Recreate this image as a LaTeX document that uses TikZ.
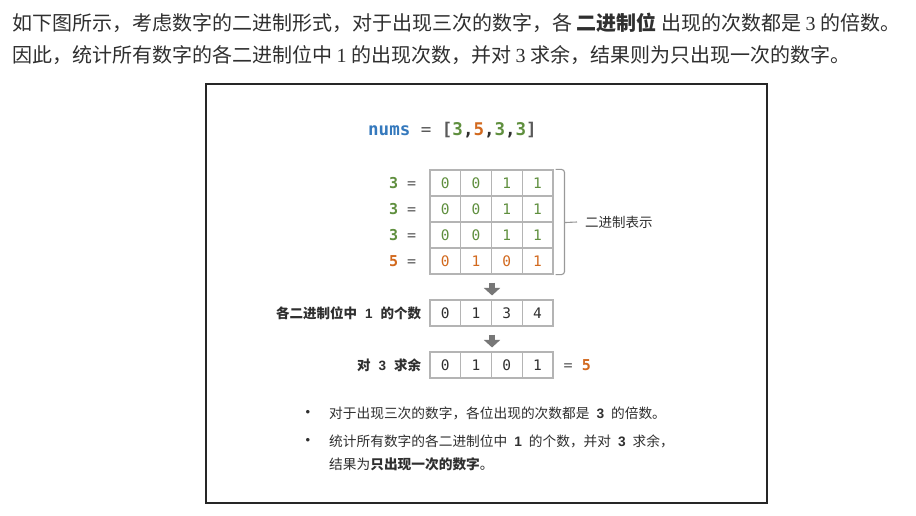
\documentclass[tikz,border=0pt]{standalone}
\usepackage{fontspec}
\setmainfont{Liberation Serif}
\newfontfamily\cjk{Noto Sans CJK SC}
\newfontfamily\mono{DejaVu Sans Mono}
\newfontfamily\arial{Liberation Sans}
\usetikzlibrary{positioning,arrows.meta}
\definecolor{numgreen}{HTML}{5F8F3E}
\definecolor{numorange}{HTML}{D2691E}
\definecolor{numblue}{HTML}{3579BD}
\definecolor{txtgray}{HTML}{2F2F2F}
\definecolor{eqgray}{HTML}{5A5A5A}
\definecolor{cellline}{HTML}{B4B4B4}
\definecolor{arrowgray}{HTML}{777777}
\begin{document}
\begin{tikzpicture}[x=1pt,y=-1pt,
    every node/.style={inner sep=0pt,text=txtgray},
    cell/.style={draw=cellline,line width=1.1pt,minimum width=30.75pt,minimum height=26pt,font=\mono\fontsize{14.5}{14.5}\selectfont},
    rowlab/.style={font=\mono\bfseries\fontsize{15}{15}\selectfont},
    sidelab/.style={font=\cjk\bfseries\fontsize{13.5}{13.5}\selectfont},
    note/.style={anchor=west,font=\cjk\fontsize{13.7}{13.7}\selectfont},
    bigarrow/.style={arrowgray,line width=6pt,-{Triangle[width=16pt,length=7.5pt]},shorten <=8pt,shorten >=4pt}]
    \useasboundingbox[fill=white] (0,0) rectangle (916,516);
    \node[anchor=west,font=\cjk\fontsize{20}{20}\selectfont] (intro1) at (12,23) {如下图所示，考虑数字的二进制形式，对于出现三次的数字，各 \textbf{二进制位} 出现的次数都是 {\rmfamily 3} 的倍数。};
    \node[anchor=west,font=\cjk\fontsize{20}{20}\selectfont] (intro2) at (12,55) {因此，统计所有数字的各二进制位中 {\rmfamily 1} 的出现次数，并对 {\rmfamily 3} 求余，结果则为只出现一次的数字。};
    \draw[black!85,line width=1.6pt] (206,84) rectangle (767,503);
    \node[anchor=west,font=\mono\bfseries\fontsize{17.5}{17.5}\selectfont] (nums) at (368,130) {\textcolor{numblue}{nums} {\mdseries\color{eqgray}=} {\color{eqgray}[}\textcolor{numgreen}{3},\textcolor{numorange}{5},\textcolor{numgreen}{3},\textcolor{numgreen}{3}{\color{eqgray}]}};
    \foreach \r/\n/\bits/\clr in {1/3/{0,0,1,1}/numgreen,2/3/{0,0,1,1}/numgreen,3/3/{0,0,1,1}/numgreen,4/5/{0,1,0,1}/numorange}{
        \foreach \b [count=\c] in \bits
            \node[cell,text=\clr] (c\r\c) at (414.6+30.75*\c,157+26*\r) {\b};
        \node[rowlab,left=13pt of c\r1] (l\r) {\textcolor{\clr}{\n} {\mdseries\color{eqgray}=}};
    }
    \draw[cellline!85!black,line width=1.1pt,rounded corners=3pt] ([xshift=2pt]c14.north east) -| ([xshift=11pt]c44.south east) -- ([xshift=2pt]c44.south east);
    \coordinate (brace) at ([xshift=11pt]c24.south east);
    \node[anchor=west,font=\cjk\fontsize{13.5}{13.5}\selectfont] (rep) at (585,222) {二进制表示};
    \draw[cellline!85!black,line width=1.1pt] (brace) -- ([xshift=-8pt]rep.west);
    \foreach \v [count=\c] in {0,1,3,4}
        \node[cell] (k\c) at (414.6+30.75*\c,313) {\v};
    \node[sidelab,left=8pt of k1] (klab) {各二进制位中\hspace{8pt}{\arial 1}\hspace{8pt}的个数};
    \foreach \v [count=\c] in {0,1,0,1}
        \node[cell] (m\c) at (414.6+30.75*\c,365) {\v};
    \node[sidelab,left=8pt of m1] (mlab) {对\hspace{8pt}{\arial 3}\hspace{8pt}求余};
    \node[rowlab,right=10pt of m4] (res) {{\mdseries\color{eqgray}=} \textcolor{numorange}{5}};
    \draw[bigarrow] (c42.south east) -- (k2.north east);
    \draw[bigarrow] (k2.south east) -- (m2.north east);
    \node[font=\arial\fontsize{13}{13}\selectfont] (dot1) at (308,413) {•};
    \node[font=\arial\fontsize{13}{13}\selectfont] (dot2) at (308,441) {•};
    \node[note] (b1) at (329,413) {对于出现三次的数字，各位出现的次数都是\hspace{7pt}{\arial\bfseries 3}\hspace{7pt}的倍数。};
    \node[note] (b2) at (329,441) {统计所有数字的各二进制位中\hspace{7pt}{\arial\bfseries 1}\hspace{7pt}的个数，并对\hspace{7pt}{\arial\bfseries 3}\hspace{7pt}求余，};
    \node[note] (b3) at (329,464) {结果为\textbf{只出现一次的数字}。};
\end{tikzpicture}
\end{document}
